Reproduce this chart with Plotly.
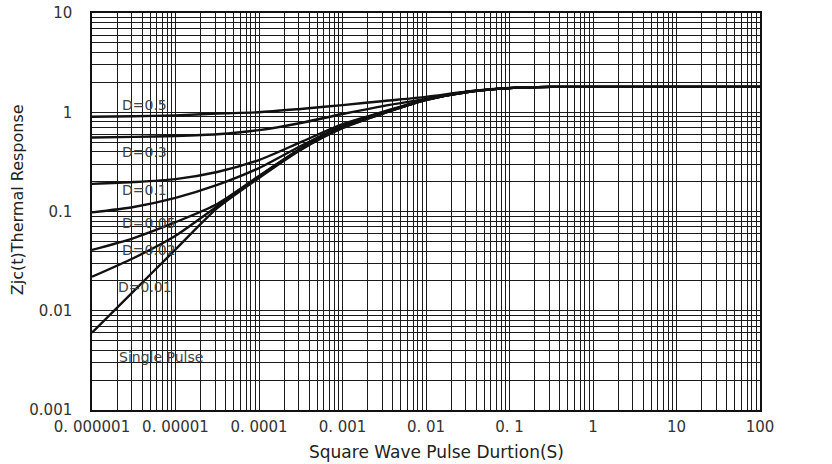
import math
import plotly.graph_objects as go

# Pulse duration (s)
t = [1e-6, 3.16e-6, 1e-5, 3.16e-5, 1e-4, 3.16e-4, 1e-3, 3.16e-3, 1e-2, 3.16e-2, 0.1, 0.316, 1, 10, 100]

single_pulse = [0.006, 0.0158, 0.0414, 0.108, 0.218, 0.417, 0.69, 0.98, 1.33, 1.60, 1.75, 1.8, 1.8, 1.8, 1.8]
d_001 = [0.022, 0.034, 0.057, 0.113, 0.225, 0.425, 0.70, 0.98, 1.33, 1.60, 1.75, 1.8, 1.8, 1.8, 1.8]
d_002 = [0.041, 0.054, 0.078, 0.119, 0.228, 0.43, 0.71, 0.99, 1.33, 1.60, 1.75, 1.8, 1.8, 1.8, 1.8]
d_005 = [0.098, 0.111, 0.137, 0.185, 0.274, 0.457, 0.73, 1.0, 1.34, 1.60, 1.75, 1.8, 1.8, 1.8, 1.8]
d_01 = [0.19, 0.198, 0.212, 0.25, 0.33, 0.50, 0.76, 1.02, 1.34, 1.61, 1.75, 1.8, 1.8, 1.8, 1.8]
d_03 = [0.557, 0.565, 0.577, 0.60, 0.66, 0.78, 0.96, 1.16, 1.36, 1.61, 1.75, 1.8, 1.8, 1.8, 1.8]
d_05 = [0.90, 0.91, 0.93, 0.97, 1.0, 1.08, 1.18, 1.30, 1.43, 1.62, 1.76, 1.8, 1.8, 1.8, 1.8]

series_names = ["D=0.5", "D=0.3", "D=0.1", "D=0.05", "D=0.02", "D=0.01", "Single Pulse"]
series_values = [d_05, d_03, d_01, d_005, d_002, d_001, single_pulse]

# Label anchor positions (data coords)
label_t = [2.16e-6, 2.16e-6, 2.16e-6, 2.16e-6, 2.16e-6, 1.94e-6, 2.0e-6]
label_z = [1.18, 0.397, 0.165, 0.0766, 0.041, 0.0173, 0.00342]

x_tickvals = [1e-6, 1e-5, 1e-4, 1e-3, 1e-2, 1e-1, 1, 10, 100]
x_ticktext = ["0. 000001", "0. 00001", "0. 0001", "0. 001", "0. 01", "0. 1", "1", "10", "100"]
y_tickvals = [0.001, 0.01, 0.1, 1, 10]
y_ticktext = ["0.001", "0.01", "0.1", "1", "10"]

x_title = "Square Wave Pulse Durtion(S)"
y_title = "Zjc(t)Thermal Response"

fig = go.Figure()
for name, vals in zip(series_names, series_values):
    fig.add_trace(go.Scatter(
        x=t, y=vals, mode="lines", name=name,
        line=dict(color="#111111", width=2.4, shape="spline", smoothing=0.7),
        showlegend=False,
    ))

for name, lx, lz in zip(series_names, label_t, label_z):
    fig.add_annotation(
        x=math.log10(lx), y=math.log10(lz), xref="x", yref="y", text=name, showarrow=False,
        xanchor="left", yanchor="middle",
        font=dict(family="DejaVu Sans", size=14, color="#444444"),
    )

# Axis titles
fig.add_annotation(
    x=0.516, y=-0.106, xref="paper", yref="paper", text=x_title, showarrow=False,
    xanchor="center", yanchor="middle",
    font=dict(family="DejaVu Sans", size=17, color="#222222"),
)
fig.add_annotation(
    x=-0.1123, y=0.531, xref="paper", yref="paper", text=y_title, showarrow=False,
    xanchor="center", yanchor="middle", textangle=-90,
    font=dict(family="DejaVu Sans", size=16, color="#222222"),
)

grid_color = "#1a1a1a"
fig.update_xaxes(
    type="log", range=[-6, 2], automargin=False,
    tickmode="array", tickvals=x_tickvals, ticktext=x_ticktext,
    showgrid=True, gridcolor=grid_color, gridwidth=1.3,
    minor=dict(dtick="D1", showgrid=True, gridcolor=grid_color, gridwidth=1.3),
    showline=True, linecolor="#111111", linewidth=1.5, mirror=True,
    ticks="outside", ticklen=2, tickcolor="white",
    tickfont=dict(family="DejaVu Sans", size=15, color="#333333"),
    zeroline=False,
)
fig.update_yaxes(
    type="log", range=[-3, 1], automargin=False,
    tickmode="array", tickvals=y_tickvals, ticktext=y_ticktext,
    showgrid=True, gridcolor=grid_color, gridwidth=1.3,
    minor=dict(dtick="D1", showgrid=True, gridcolor=grid_color, gridwidth=1.3),
    showline=True, linecolor="#111111", linewidth=1.5, mirror=True,
    ticks="outside", ticklen=15, tickcolor="white",
    tickfont=dict(family="DejaVu Sans", size=15, color="#333333"),
    zeroline=False,
)

fig.update_layout(
    width=832, height=464,
    margin=dict(l=92, r=72, t=13, b=54),
    paper_bgcolor="white", plot_bgcolor="white",
)

fig.write_html("out.html", config={"displayModeBar": False},
               post_script="document.body.style.margin='0';")
